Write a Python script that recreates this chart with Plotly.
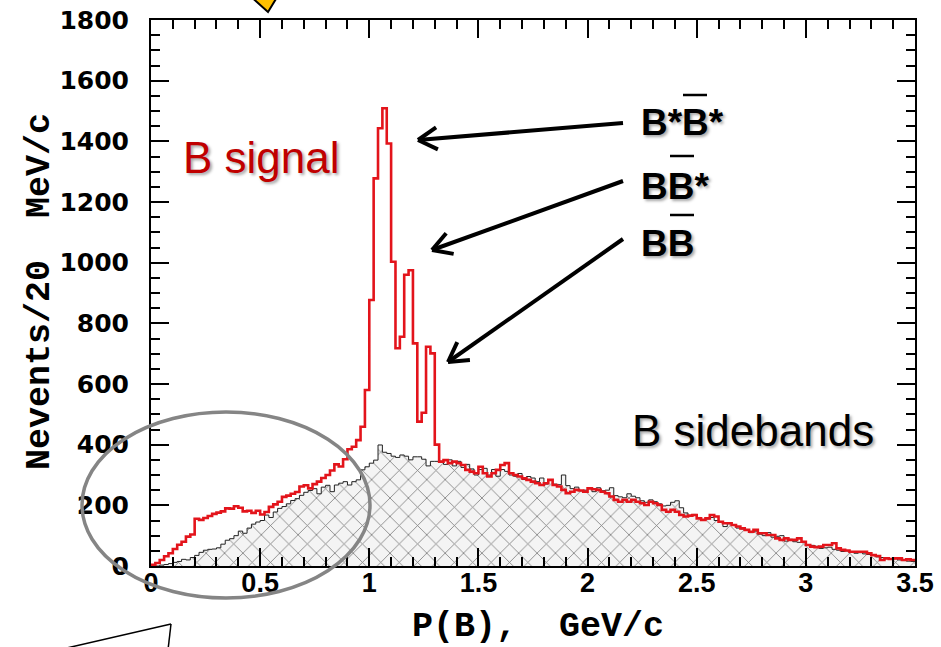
import math
import plotly.graph_objects as go

# ---------------- data ----------------
BIN_WIDTH = 0.02  # GeV/c  (20 MeV/c)
N_BINS = 175

signal_counts = [
    4, 10, 20, 32, 42, 56, 70, 80, 97, 104,
    156, 152, 158, 165, 172, 176, 180, 190, 189, 197,
    192, 180, 182, 175, 182, 170, 178, 195, 203, 212,
    228, 232, 238, 244, 262, 266, 256, 270, 278, 290,
    300, 315, 335, 328, 352, 385, 393, 415, 459, 580,
    877, 1278, 1443, 1509, 1393, 1003, 718, 756, 960, 975,
    734, 476, 505, 723, 701, 400, 344, 349, 339, 344,
    339, 333, 317, 311, 306, 327, 306, 295, 306, 317,
    333, 339, 306, 300, 295, 289, 284, 278, 273, 267,
    273, 284, 267, 262, 251, 240, 245, 251, 249, 245,
    256, 253, 251, 245, 240, 229, 218, 212, 218, 212,
    218, 212, 207, 201, 212, 207, 201, 185, 179,
    185, 179, 168, 163, 166, 168, 157, 152, 157, 168,
    163, 146, 141, 141, 135, 130, 124, 119, 113, 119,
    108, 108, 102, 102, 91, 86, 91, 86, 86, 91,
    80, 69, 64, 62, 64, 69, 69, 75, 58, 53,
    51, 47, 47, 47, 47, 42, 36, 33, 20, 25,
    23, 25, 25, 20, 22, 20,
]

sideband_counts = [
    0, 0, 3, 5, 8, 12, 15, 22, 20, 28,
    35, 45, 52, 55, 56, 60, 72, 85, 90, 100,
    115, 108, 125, 138, 145, 150, 168, 160, 178, 190,
    196, 205, 216, 222, 233, 243, 249, 255, 238, 260,
    266, 245, 267, 273, 278, 267, 278, 284, 317, 327,
    339, 349, 399, 375, 371, 362, 358, 366, 362, 350,
    360, 360, 352, 330, 345, 345, 345, 335, 350, 330,
    345, 325, 335, 320, 300, 318, 322, 300, 318, 296,
    318, 312, 300, 296, 305, 285, 295, 290, 278, 290,
    270, 285, 270, 268, 300, 265, 255, 260, 248, 250,
    255, 245, 258, 248, 250, 258, 232, 228, 225, 238,
    230, 225, 215, 210, 218, 212, 205, 198, 200, 210,
    215, 192, 175, 165, 170, 160, 150, 155, 160, 150,
    145, 130, 140, 135, 125, 122, 118, 110, 115, 105,
    100, 110, 95, 98, 100, 82, 88, 80, 78, 80,
    70, 68, 65, 58, 60, 62, 55, 52, 48, 50,
    45, 42, 44, 40, 38, 35, 30, 28, 25, 22,
    24, 20, 18, 16, 15,
]

x_tick_vals = [0, 0.5, 1, 1.5, 2, 2.5, 3, 3.5]
x_tick_text = ["0", "0.5", "1", "1.5", "2", "2.5", "3", "3.5"]
y_tick_vals = [0, 200, 400, 600, 800, 1000, 1200, 1400, 1600, 1800]

x_title = "P(B),  GeV/c"
y_title = "Nevents/20  MeV/c"

# ---------------- build step outlines ----------------
edges = [round(i * BIN_WIDTH, 4) for i in range(N_BINS + 1)]


def step(values):
    xs = [0.0] + edges
    ys = [0] + list(values) + [values[-1]]
    return xs, ys


sx, sy = step(signal_counts)
bx, by = step(sideband_counts)

fig = go.Figure()

fig.add_trace(go.Scatter(
    x=bx, y=by, mode="lines", line=dict(color="#222222", width=1, shape="hv"),
    fill="tozeroy",
    fillpattern=dict(shape="x", size=13, solidity=0.12,
                     fgcolor="#7a7a7a", bgcolor="#f4f4f4", fillmode="replace"),
    hoverinfo="skip", showlegend=False,
))
fig.add_trace(go.Scatter(
    x=sx, y=sy, mode="lines", line=dict(color="#e3141b", width=2.6, shape="hv"),
    hoverinfo="skip", showlegend=False,
))

# ---------------- layout ----------------
W, H = 941, 647
L, R, T, B = 151, 26, 20, 81
PW, PH = W - L - R, H - T - B


def px(xs):
    """screen x pixel -> paper x"""
    return (xs - L) / PW


def py(ys):
    """screen y pixel -> paper y"""
    return (H - B - ys) / PH


axis_common = dict(
    showline=True, linewidth=2, linecolor="black", mirror="ticks",
    ticks="inside", ticklen=18, tickwidth=2, tickcolor="black",
    showgrid=False, zeroline=False, automargin=False, ticklabeloverflow="allow",
)

fig.update_layout(
    width=W, height=H,
    margin=dict(l=L, r=R, t=T, b=B, autoexpand=False),
    paper_bgcolor="white", plot_bgcolor="white",
    xaxis=dict(
        range=[0, 3.5], tickmode="array", tickvals=x_tick_vals, ticktext=x_tick_text,
        minor=dict(dtick=0.1, ticks="inside", ticklen=9, tickwidth=1.5, tickcolor="black"),
        tickfont=dict(family="Liberation Sans", size=27, color="black", weight="bold"),
        ticklabelstandoff=-8,
        **axis_common,
    ),
    yaxis=dict(
        range=[0, 1800], tickmode="array", tickvals=y_tick_vals,
        minor=dict(dtick=50, ticks="inside", ticklen=9, tickwidth=1.5, tickcolor="black"),
        tickfont=dict(family="DejaVu Sans", size=25, color="black", weight="bold"),
        ticklabelstandoff=15,
        **axis_common,
    ),
)

mono = dict(family="Liberation Mono", size=35, color="black", weight="bold")
shadow = "2px 2px 3px rgba(0,0,0,0.35)"

annotations = [
    dict(text=x_title, x=px(538), y=py(627), xref="paper", yref="paper",
         xanchor="center", yanchor="middle", showarrow=False, font=mono),
    dict(text=y_title, x=px(40), y=py(292), xref="paper", yref="paper",
         xanchor="center", yanchor="middle", textangle=-90, showarrow=False, font=mono),
    dict(text="B signal", x=px(181), y=py(157), xref="paper", yref="paper",
         xanchor="left", yanchor="middle", showarrow=False,
         font=dict(family="Liberation Sans", size=44, color="#c00000", shadow=shadow)),
    dict(text="B sidebands", x=px(630), y=py(430), xref="paper", yref="paper",
         xanchor="left", yanchor="middle", showarrow=False,
         font=dict(family="Liberation Sans", size=44, color="black", shadow=shadow)),
    dict(text="B*B*", x=px(639), y=py(122), xref="paper", yref="paper",
         xanchor="left", yanchor="middle", showarrow=False,
         font=dict(family="Liberation Sans", size=37, color="black", weight="bold", shadow=shadow)),
    dict(text="BB*", x=px(639), y=py(186), xref="paper", yref="paper",
         xanchor="left", yanchor="middle", showarrow=False,
         font=dict(family="Liberation Sans", size=37, color="black", weight="bold", shadow=shadow)),
    dict(text="BB", x=px(639), y=py(243), xref="paper", yref="paper",
         xanchor="left", yanchor="middle", showarrow=False,
         font=dict(family="Liberation Sans", size=37, color="black", weight="bold", shadow=shadow)),
]
fig.update_layout(annotations=annotations)

shapes = [
    # grey ellipse
    dict(type="circle", xref="paper", yref="paper",
         x0=px(82), x1=px(370), y0=py(598), y1=py(412),
         line=dict(color="#858585", width=3.5), layer="above"),
    # callout lines bottom-left
    dict(type="line", xref="paper", yref="paper", x0=px(58), y0=py(650), x1=px(171), y1=py(624),
         line=dict(color="black", width=1.5)),
    dict(type="line", xref="paper", yref="paper", x0=px(171), y0=py(624), x1=px(168), y1=py(650),
         line=dict(color="black", width=1.5)),
    # yellow arrow tip at top
    dict(type="path", xref="paper", yref="paper",
         path=f"M {px(248)},{py(-6)} L {px(268)},{py(12)} L {px(279)},{py(-6)} Z",
         fillcolor="#FFC000", line=dict(color="black", width=2)),
]

# arrows with open chevron heads: (head, tail) in screen pixels
arrows = [((418, 140), (623, 123)), ((432, 250), (623, 181)), ((448, 362), (623, 239))]
HEAD_LEN, HEAD_ANG = 22, math.radians(30)
for (hx, hy), (tx, ty) in arrows:
    shapes.append(dict(type="line", xref="paper", yref="paper",
                       x0=px(tx), y0=py(ty), x1=px(hx), y1=py(hy),
                       line=dict(color="black", width=4)))
    ang = math.atan2(ty - hy, tx - hx)
    for s in (-1, 1):
        ex = hx + HEAD_LEN * math.cos(ang + s * HEAD_ANG)
        ey = hy + HEAD_LEN * math.sin(ang + s * HEAD_ANG)
        shapes.append(dict(type="line", xref="paper", yref="paper",
                           x0=px(hx), y0=py(hy), x1=px(ex), y1=py(ey),
                           line=dict(color="black", width=4)))

# overlines (anti-particle bars)
for x0, x1, yy in [(683, 707, 95), (670, 694, 156), (670, 694, 215)]:
    shapes.append(dict(type="line", xref="paper", yref="paper",
                       x0=px(x0), x1=px(x1), y0=py(yy), y1=py(yy),
                       line=dict(color="black", width=2.5)))
fig.update_layout(shapes=shapes)

fig.write_html(
    "out.html",
    config={"displayModeBar": False},
    post_script="document.body.style.margin='0';document.body.style.padding='0';"
                "document.body.style.overflow='hidden';",
)
